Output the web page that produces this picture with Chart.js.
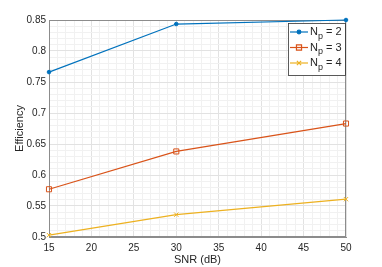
<!DOCTYPE html>
<html>
<head>
<meta charset="utf-8">
<script src="https://cdn.jsdelivr.net/npm/chart.js@4/dist/chart.umd.min.js"></script>
<style>
  html, body { margin: 0; padding: 0; background: #fff; }
  #wrap { width: 382px; height: 267px; }
</style>
</head>
<body>
<div id="wrap"><canvas id="chart" width="382" height="267"></canvas></div>
<script>
// values
const snr = [15, 30, 50]
const np2 = [0.766, 0.8435, 0.850]
const np3 = [0.577, 0.638, 0.683]
const np4 = [0.503, 0.536, 0.561]
const legendLabels = ['2', '3', '4']

const FONT = "'Liberation Sans', Arial, sans-serif"

function pts(ys) {
    return snr.map((x, i) => ({ x: x, y: ys[i] }))
}

// box around the axes (MATLAB "box on")
const boxPlugin = {
    id: 'box',
    beforeDatasetsDraw(chart) {
        const a = chart.chartArea
        const ctx = chart.ctx
        ctx.save()
        ctx.strokeStyle = '#8c8c8c'
        ctx.lineWidth = 1
        ctx.strokeRect(Math.round(a.left) + 0.5, Math.round(a.top) + 0.5,
            Math.round(a.right - a.left) - 1, Math.round(a.bottom - a.top) - 1)
        ctx.restore()
    }
}

// legend in a box, with subscript p
const legendPlugin = {
    id: 'boxLegend',
    afterDraw(chart) {
        const a = chart.chartArea
        const ctx = chart.ctx
        const w = 57, h = 52
        const x0 = Math.round(a.right) - w - 1
        const y0 = Math.round(a.top) + 3
        ctx.save()
        ctx.fillStyle = '#fff'
        ctx.fillRect(x0, y0, w, h)
        ctx.strokeStyle = '#333'
        ctx.lineWidth = 0.8
        ctx.strokeRect(x0 + 0.5, y0 + 0.5, w, h)
        chart.data.datasets.forEach((ds, i) => {
            const cy = y0 + 9 + i * 15.5
            ctx.strokeStyle = ds.borderColor
            ctx.lineWidth = ds.borderWidth
            ctx.beginPath()
            ctx.moveTo(x0 + 2, cy)
            ctx.lineTo(x0 + 20, cy)
            ctx.stroke()
            ctx.fillStyle = ds.pointBackgroundColor
            ctx.strokeStyle = ds.borderColor
            Chart.helpers.drawPoint(ctx, {
                pointStyle: ds.pointStyle, radius: ds.pointRadius,
                borderWidth: ds.pointBorderWidth, rotation: 0
            }, x0 + 11, cy)
            ctx.fillStyle = '#262626'
            ctx.textBaseline = 'middle'
            ctx.textAlign = 'left'
            let tx = x0 + 22
            ctx.font = '11px ' + FONT
            ctx.fillText('N', tx, cy)
            tx += ctx.measureText('N').width
            ctx.font = '9px ' + FONT
            ctx.fillText('p', tx, cy + 4.5)
            tx += ctx.measureText('p').width
            ctx.font = '11px ' + FONT
            ctx.fillText(' = ' + legendLabels[i], tx, cy)
        })
        ctx.restore()
    }
}

new Chart(document.getElementById('chart'), {
    type: 'line',
    data: {
        datasets: [
            {
                label: 'Np = 2', data: pts(np2),
                borderColor: '#0072BD', pointBackgroundColor: '#0072BD',
                borderWidth: 1.2, pointStyle: 'circle', pointRadius: 1.8,
                pointBorderWidth: 1, clip: false
            },
            {
                label: 'Np = 3', data: pts(np3),
                borderColor: '#D95319', pointBackgroundColor: 'rgba(0,0,0,0)',
                borderWidth: 1.2, pointStyle: 'rect', pointRadius: 3.6,
                pointBorderWidth: 1, clip: false
            },
            {
                label: 'Np = 4', data: pts(np4),
                borderColor: '#EDB120', pointBackgroundColor: 'rgba(0,0,0,0)',
                borderWidth: 1.2, pointStyle: 'crossRot', pointRadius: 3,
                pointBorderWidth: 1, clip: false
            }
        ]
    },
    options: {
        responsive: false,
        animation: false,
        layout: { padding: { left: 0, top: 20, right: 36, bottom: 0 } },
        plugins: {
            legend: { display: false },
            tooltip: { enabled: false }
        },
        elements: { line: { tension: 0 } },
        scales: {
            x: {
                type: 'linear', min: 15, max: 50,
                afterFit: s => { s.height = 30 },
                ticks: {
                    stepSize: 1, autoSkip: false, maxRotation: 0, padding: 5,
                    color: '#262626', font: { family: FONT, size: 10 },
                    callback: v => (v % 5 === 0 ? String(v) : '')
                },
                grid: {
                    drawTicks: false,
                    color: c => (c.tick && c.tick.value % 5 === 0 ? '#e2e2e2' : '#f1f1f1')
                },
                border: { display: true, color: '#8c8c8c' },
                title: {
                    display: true, text: 'SNR (dB)', color: '#262626',
                    font: { family: FONT, size: 11 }, padding: { top: 0, bottom: 0 }
                }
            },
            y: {
                min: 0.5, max: 0.85,
                afterFit: s => { s.width = 49 },
                ticks: {
                    stepSize: 0.01, autoSkip: false, padding: 3,
                    color: '#262626', font: { family: FONT, size: 10 },
                    callback: v => {
                        const k = Math.round(v * 100)
                        return k % 5 === 0 ? String(k / 100) : ''
                    }
                },
                grid: {
                    drawTicks: false,
                    color: c => (c.tick && Math.round(c.tick.value * 100) % 5 === 0 ? '#e2e2e2' : '#f1f1f1')
                },
                border: { display: true, color: '#8c8c8c' },
                title: {
                    display: true, text: 'Efficiency', color: '#262626',
                    font: { family: FONT, size: 11 }, padding: { top: 13, bottom: 0 }
                }
            }
        }
    },
    plugins: [boxPlugin, legendPlugin]
})
</script>
</body>
</html>
